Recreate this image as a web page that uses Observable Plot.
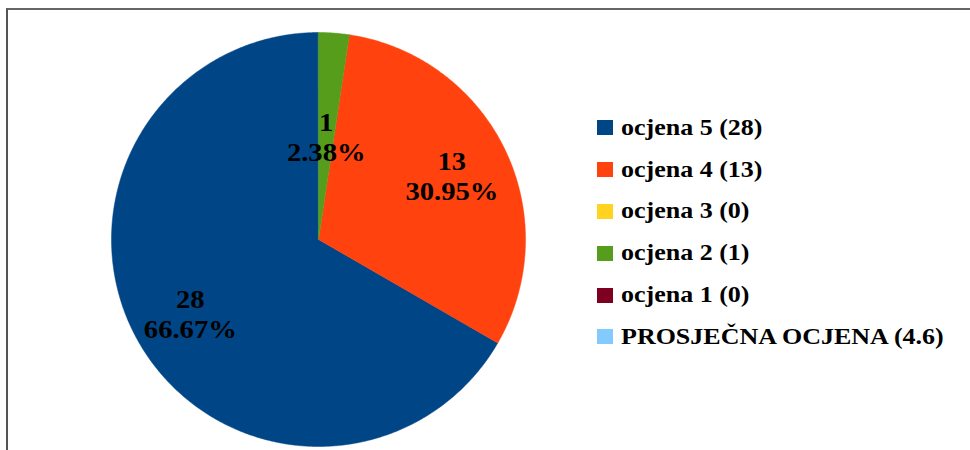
<!DOCTYPE html>
<html><head><meta charset="utf-8">
<script src="https://cdn.jsdelivr.net/npm/d3@7"></script>
<script src="https://cdn.jsdelivr.net/npm/@observablehq/plot@0.6"></script>
<style>
html,body{margin:0;padding:0;background:#fff;}
#wrap{position:relative;width:970px;height:450px;overflow:hidden;background:#fff;}
#frame{position:absolute;left:6px;top:8px;width:1000px;height:500px;border-left:2px solid #555;border-top:2px solid #666;box-sizing:border-box;}
#chart{position:absolute;left:0;top:0;}
#legend{position:absolute;left:597px;top:107px;}
.lg-swatches{font-family:"Liberation Serif","Times New Roman",serif;font-size:23px;font-weight:bold;color:#000;margin:0;}
.lg-swatch{height:41.8px;padding:0;}
.lg-swatch > svg{margin-right:8px;}
.lg-swatch-label{transform:scaleX(1.13);transform-origin:left center;overflow:visible !important;}
</style>
</head><body>
<div id="wrap"><div id="frame"></div><div id="chart"></div><div id="legend"></div></div>
<script>
// ---- data ----
const grades = ["ocjena 5", "ocjena 4", "ocjena 3", "ocjena 2", "ocjena 1"];
const counts = [28, 13, 0, 1, 0];
const averageLabel = "PROSJEČNA OCJENA";
const averageValue = [4.6];
const colors = ["#004586", "#ff420e", "#ffd320", "#579d1c", "#7e0021", "#83caff"];

const legendLabels = grades.map((g, i) => `${g} (${counts[i]})`).concat([`${averageLabel} (${averageValue[0]})`]);

// ---- slices (counter-clockwise from 12 o'clock) ----
const total = d3.sum(counts);
const polys = [];
const labels = [];
let cum = 0;
grades.forEach((g, i) => {
  const c = counts[i];
  const key = legendLabels[i];
  if (c > 0) {
    const a0 = cum / total * 2 * Math.PI;
    const a1 = (cum + c) / total * 2 * Math.PI;
    polys.push({key, x: 0, y: 0});
    const n = Math.max(2, Math.ceil((a1 - a0) / (Math.PI / 360)));
    for (let k = 0; k <= n; k++) {
      const t = a0 + (a1 - a0) * k / n;
      polys.push({key, x: -Math.sin(t), y: Math.cos(t)});
    }
    const mid = (a0 + a1) / 2;
    const frac = c / total;
    const r = frac < 0.05 ? 0.5 : 0.715;
    labels.push({x: -r * Math.sin(mid), y: r * Math.cos(mid), text: `${c}\n${(frac * 100).toFixed(2)}%`});
  }
  cum += c;
});

const colorScale = {type: "ordinal", domain: legendLabels, range: colors};

const chart = Plot.plot({
  width: 580,
  height: 450,
  x: {domain: [-1, 1], range: [111, 525], axis: null},
  y: {domain: [-1, 1], range: [446, 32], axis: null},
  color: colorScale,
  style: {background: "transparent", overflow: "visible"},
  marks: [
    Plot.line(polys, {x: "x", y: "y", z: "key", fill: "key", stroke: "key", strokeWidth: 0.5, curve: "linear-closed"}),
    Plot.text(labels, {x: "x", y: "y", text: "text", fontSize: 26, fontWeight: "bold",
      fontFamily: "'Liberation Serif','Times New Roman',serif", fill: "#000", lineHeight: 1.15, lineAnchor: "middle"})
  ]
});
// widen the label glyphs slightly, around their own anchor
chart.querySelectorAll("text").forEach(t => {
  const tr = t.getAttribute("transform");
  if (tr) {
    t.setAttribute("transform", tr + " scale(1.1,1)");
  } else if (t.hasAttribute("x") && t.hasAttribute("y")) {
    const x = +t.getAttribute("x"), y = +t.getAttribute("y");
    t.setAttribute("x", 0); t.setAttribute("y", 0);
    t.setAttribute("transform", `translate(${x},${y}) scale(1.1,1)`);
  }
});
document.getElementById("chart").appendChild(chart);

const legend = Plot.legend({
  color: colorScale,
  legend: "swatches",
  columns: 1,
  swatchWidth: 16,
  swatchHeight: 15,
  className: "lg",
  width: 370
});
document.getElementById("legend").appendChild(legend);
</script>
</body></html>
